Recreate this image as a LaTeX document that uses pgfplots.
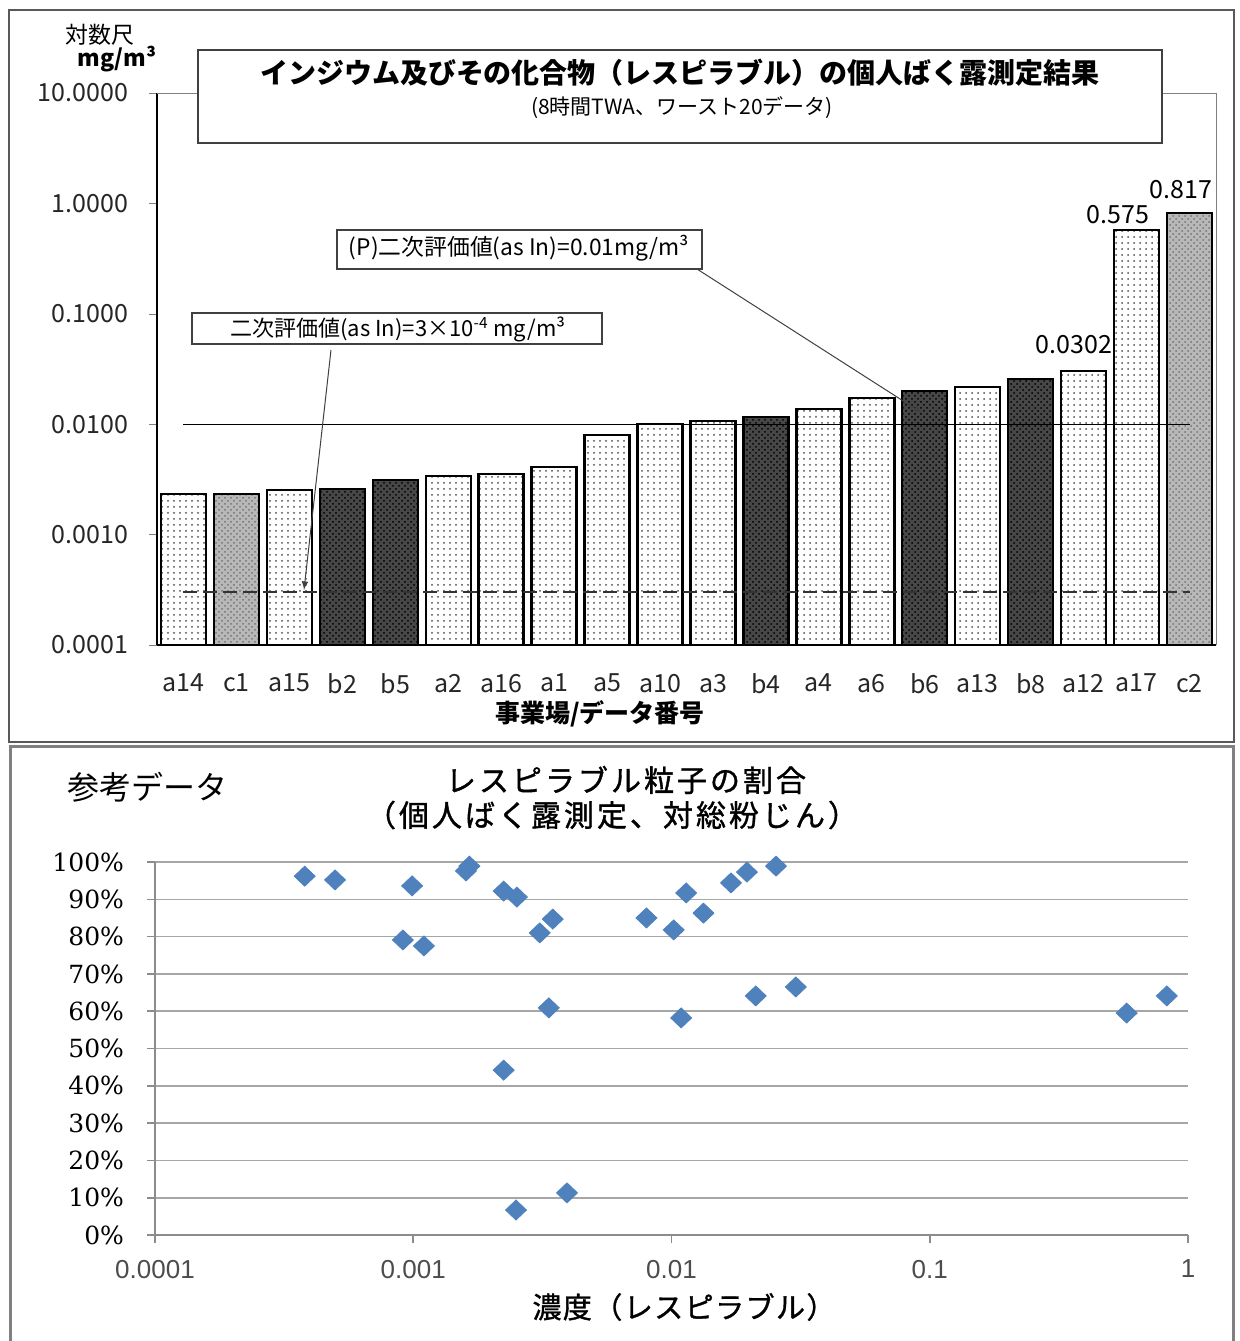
\documentclass[border=0pt]{standalone}
\usepackage{fontspec}
\setmainfont{Noto Sans CJK JP}
\newfontfamily\serifnum{DejaVu Serif}
\newfontfamily\sansnum{Liberation Sans}
\newfontfamily\semibold[FakeBold=1.2]{Noto Sans CJK JP}
\usepackage{pgfplots}
\pgfplotsset{compat=1.18}
\usetikzlibrary{patterns}
\definecolor{xlblue}{HTML}{4F81BD}

% bar values (mg/m3), x = position of category
\pgfplotstableread{
x y
0 0.00233
2 0.00254
5 0.0034
6 0.00354
7 0.0041
8 0.0080
9 0.0100
10 0.0107
12 0.0137
13 0.0173
15 0.0217
17 0.0302
18 0.575
}\seriesA
\pgfplotstableread{
x y
3 0.00259
4 0.00313
11 0.0116
14 0.0200
16 0.0257
}\seriesB
\pgfplotstableread{
x y
1 0.00233
19 0.817
}\seriesC

% respirable fraction vs concentration
\pgfplotstableread{
x y
0.00038 96.2
0.000498 95.2
0.000912 79.1
0.00099 93.6
0.0011 77.5
0.0016 97.6
0.00165 98.9
0.00224 92.2
0.00252 90.6
0.00224 44.2
0.00250 6.7
0.00309 81.0
0.00347 84.7
0.00335 60.9
0.00394 11.3
0.0080 85.0
0.0102 81.8
0.0109 58.2
0.0114 91.7
0.0133 86.3
0.0170 94.4
0.0196 97.3
0.0212 64.1
0.0254 98.9
0.0303 66.5
0.579 59.5
0.828 64.1
}\frac

\begin{document}
\begin{tikzpicture}[x=0.5pt,y=-0.5pt]
\useasboundingbox (0,0) rectangle (1240,1341);

% ---------- top chart ----------
\begin{axis}[
  at={(78.5pt,-322.5pt)}, anchor=south west,
  scale only axis, width=529.5pt, height=276pt,
  ymode=log, log origin=infty,
  ymin=1e-4, ymax=10,
  xmin=-0.5, xmax=19.5,
  axis x line*=bottom, axis y line*=left,
  axis line style={black, line width=0.6pt},
  ytick={1e-4,1e-3,1e-2,1e-1,1,10},
  yticklabels={0.0001,0.0010,0.0100,0.1000,1.0000,10.0000},
  yminorticks=false,
  tick align=outside, major tick length=4pt,
  xtick={0,...,19},
  xticklabels={a14,c1,a15,b2,b5,a2,a16,a1,a5,a10,a3,b4,a4,a6,b6,a13,b8,a12,a17,c2},
  x tick style={draw=none},
  ticklabel style={font=\fontsize{12.5}{14}\selectfont, text=black!85},
  xticklabel style={yshift=-7pt},
  yticklabel style={xshift=-7pt},
  clip=false,
]
\draw[black!50, line width=0.5pt] (rel axis cs:0,1) -- (rel axis cs:1,1) -- (rel axis cs:1,0);
\addplot[ybar, bar width=22.5pt, bar shift=0pt, draw=black, line width=1.2pt,
  pattern=dots, pattern color=black!70] table[x=x,y=y] {\seriesA};
\addplot[ybar, bar width=22.5pt, bar shift=0pt, draw=black, line width=1.2pt,
  fill=black!72, postaction={pattern=crosshatch dots, pattern color=black}] table[x=x,y=y] {\seriesB};
\addplot[ybar, bar width=22.5pt, bar shift=0pt, draw=black, line width=1.2pt,
  fill=black!28, postaction={pattern=crosshatch dots, pattern color=black!55}] table[x=x,y=y] {\seriesC};
\addplot[black, line width=0.6pt] coordinates {(0,0.01) (19,0.01)};
\addplot[black!80, line width=1pt, dash pattern=on 7pt off 3pt] coordinates {(0,3e-4) (19,3e-4)};
\end{axis}

% frames and annotations (pixel positions)
\draw[black!65, line width=1pt] (9,10) rectangle (1234,742);
\node[font=\fontsize{11.5}{13}\selectfont] at (100,35) {対数尺};
\node[font=\bfseries\fontsize{11.5}{13}\selectfont] at (117,59) {mg/m³};

\draw[black!75, fill=white, line width=0.7pt] (198,50) rectangle (1162,143);
\node[font=\bfseries\fontsize{14}{16}\selectfont] at (680,73) {インジウム及びその化合物（レスピラブル）の個人ばく露測定結果};
\node[font=\fontsize{10.5}{12}\selectfont] at (682,108) {(8時間TWA、ワースト20データ)};

\draw[black!75, fill=white, line width=0.7pt] (337,230) rectangle (702,269);
\node[font=\fontsize{11.4}{13}\selectfont] at (519,248) {(P)二次評価値(as In)=0.01mg/m³};
\draw[black!75, line width=0.5pt, -latex] (697,269) -- (922,413);

\draw[black!75, fill=white, line width=0.7pt] (192,313) rectangle (602,344);
\node[font=\fontsize{11}{13}\selectfont] at (398,329) {二次評価値(as In)=3×10\textsuperscript{-4} mg/m³};
\draw[black!75, line width=0.5pt, -latex] (331,350) -- (304,590);

\node[font=\fontsize{12.5}{14}\selectfont] at (1181,190) {0.817};
\node[font=\fontsize{12.5}{14}\selectfont] at (1118,215) {0.575};
\node[font=\fontsize{12.5}{14}\selectfont] at (1074,345) {0.0302};
\node[font=\bfseries\fontsize{12.5}{14}\selectfont] at (600,714) {事業場/データ番号};

% ---------- bottom chart ----------
\begin{axis}[
  at={(77.5pt,-617.5pt)}, anchor=south west,
  scale only axis, width=516.5pt, height=186.5pt,
  xmode=log, xmin=1e-4, xmax=1, ymin=0, ymax=100,
  axis x line*=bottom, axis y line*=left,
  axis line style={black!45, line width=0.8pt},
  xtick={1e-4,1e-3,1e-2,1e-1,1},
  xticklabels={0.0001,0.001,0.01,0.1,1},
  xminorticks=false,
  ytick={0,10,...,100},
  yticklabels={0\%,10\%,20\%,30\%,40\%,50\%,60\%,70\%,80\%,90\%,100\%},
  ymajorgrids, grid style={black!35, line width=0.8pt},
  tick align=outside, major tick length=4pt,
  tick style={black!45, line width=0.8pt},
  xticklabel style={font=\sansnum\fontsize{13}{15}\selectfont, text=black!70, yshift=-5pt},
  yticklabel style={font=\serifnum\fontsize{12.5}{14}\selectfont, xshift=-8pt},
  clip=false,
]
\addplot[only marks, mark=diamond*, mark size=5pt,
  mark options={xscale=1.4, fill=xlblue, draw=xlblue}] table[x=x,y=y] {\frac};
\end{axis}

\draw[black!50, line width=1.5pt] (10,1341) -- (10,746) -- (1233,746) -- (1233,1341);
\node[font=\fontsize{16}{18}\selectfont] at (148,787) {参考データ};
\node[font=\semibold\fontsize{15}{17}\selectfont\addfontfeatures{LetterSpace=10}] at (626,780) {レスピラブル粒子の割合};
\node[font=\semibold\fontsize{15}{17}\selectfont\addfontfeatures{LetterSpace=10}] at (612,815) {（個人ばく露測定、対総粉じん）};
\node[font=\semibold\fontsize{14.5}{16}\selectfont\addfontfeatures{LetterSpace=5}] at (684,1307) {濃度（レスピラブル）};
\end{tikzpicture}
\end{document}
